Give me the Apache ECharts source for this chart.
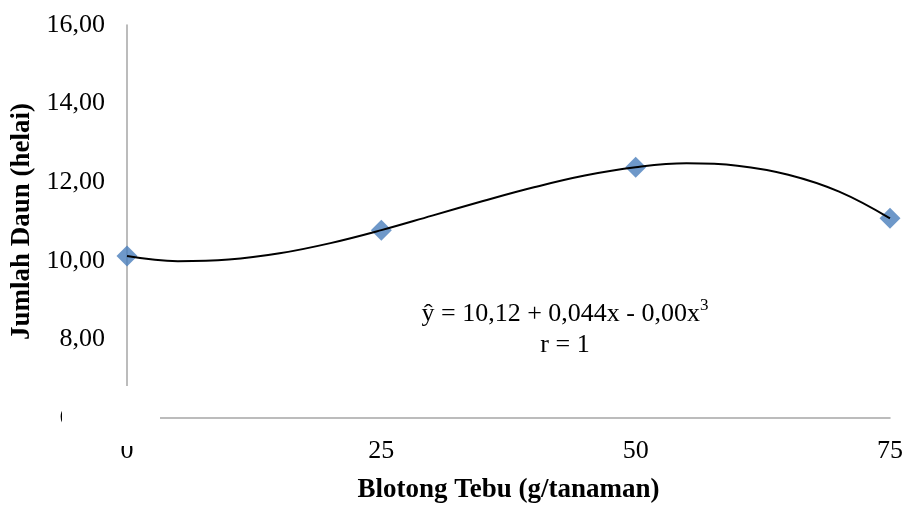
<!DOCTYPE html>
<html>
<head>
<meta charset="utf-8">
<script src="https://cdn.jsdelivr.net/npm/echarts@6/dist/echarts.min.js"></script>
<style>
  html, body { margin: 0; padding: 0; background: #fff; }
  #chart { width: 906px; height: 509px; }
</style>
</head>
<body>
<div id="chart"></div>
<script>
// observed points
const doses = [0, 25, 50, 75];
const leaves = [10.12, 10.78, 12.38, 11.08];

// trend line
const trendX = [0, 5, 10, 15, 20, 25, 30, 35, 40, 45, 50, 55, 60, 65, 70, 75];
const trendY = [10.12, 9.99, 10.03, 10.19, 10.45, 10.78, 11.15, 11.52, 11.87, 12.17, 12.38, 12.48, 12.42, 12.19, 11.76, 11.08];

const equation = "ŷ = 10,12 + 0,044x - 0,00x";
const rText = "r = 1";

const chart = echarts.init(document.getElementById("chart"));
const serif = "'Liberation Serif', 'Times New Roman', serif";

const option = {
    animation: false,
    grid: {
        left: 127,
        right: 14,
        top: 25,
        bottom: 85
    },
    xAxis: {
        type: "value",
        min: 0,
        max: 75,
        interval: 25,
        name: "Blotong Tebu (g/tanaman)",
        nameLocation: "middle",
        nameGap: 59,
        nameTextStyle: { fontFamily: serif, fontSize: 27, fontWeight: "bold", color: "#000" },
        axisLine: { lineStyle: { color: "#a6a6a6", width: 1.5 } },
        axisTick: { show: false },
        splitLine: { show: false },
        axisLabel: { fontFamily: serif, fontSize: 26, color: "#000", margin: 20 }
    },
    yAxis: {
        type: "value",
        min: 6,
        max: 16,
        interval: 2,
        name: "Jumlah Daun (helai)",
        nameLocation: "middle",
        nameRotate: 90,
        nameGap: 91,
        nameTextStyle: { fontFamily: serif, fontSize: 27, fontWeight: "bold", color: "#000" },
        axisLine: { show: true, lineStyle: { color: "#a6a6a6", width: 1.5 } },
        axisTick: { show: false },
        splitLine: { show: false },
        axisLabel: {
            fontFamily: serif, fontSize: 26, color: "#000", margin: 22,
            formatter: v => v.toFixed(2).replace(".", ",")
        }
    },
    series: [
        {
            name: "Data",
            type: "scatter",
            symbol: "diamond",
            symbolSize: 21,
            itemStyle: { color: "#4a7ebb" },
            data: doses.map((d, i) => [d, leaves[i]]),
            z: 2
        },
        {
            name: "Trend",
            type: "line",
            smooth: 0.4,
            showSymbol: false,
            lineStyle: { color: "#000", width: 2 },
            data: trendX.map((d, i) => [d, trendY[i]]),
            z: 3
        }
    ],
    graphic: [
        {
            // axis break in the lower-left corner
            type: "rect",
            z: 100,
            shape: { x: 62, y: 386, width: 98, height: 60 },
            style: { fill: "#fff" }
        },
        {
            type: "text",
            z: 101,
            x: 565,
            y: 312,
            style: {
                text: "{n|" + equation + "}{s|3}",
                align: "center",
                verticalAlign: "middle",
                rich: {
                    n: { fontFamily: serif, fontSize: 26, fill: "#000", lineHeight: 30, verticalAlign: "bottom" },
                    s: { fontFamily: serif, fontSize: 17, fill: "#000", lineHeight: 30, verticalAlign: "top", padding: [0, 0, 12, 0] }
                }
            }
        },
        {
            type: "text",
            z: 101,
            x: 565,
            y: 345,
            style: { text: rText, fontFamily: serif, fontSize: 26, fill: "#000", align: "center", verticalAlign: "middle" }
        }
    ]
};

chart.setOption(option);
</script>
</body>
</html>
